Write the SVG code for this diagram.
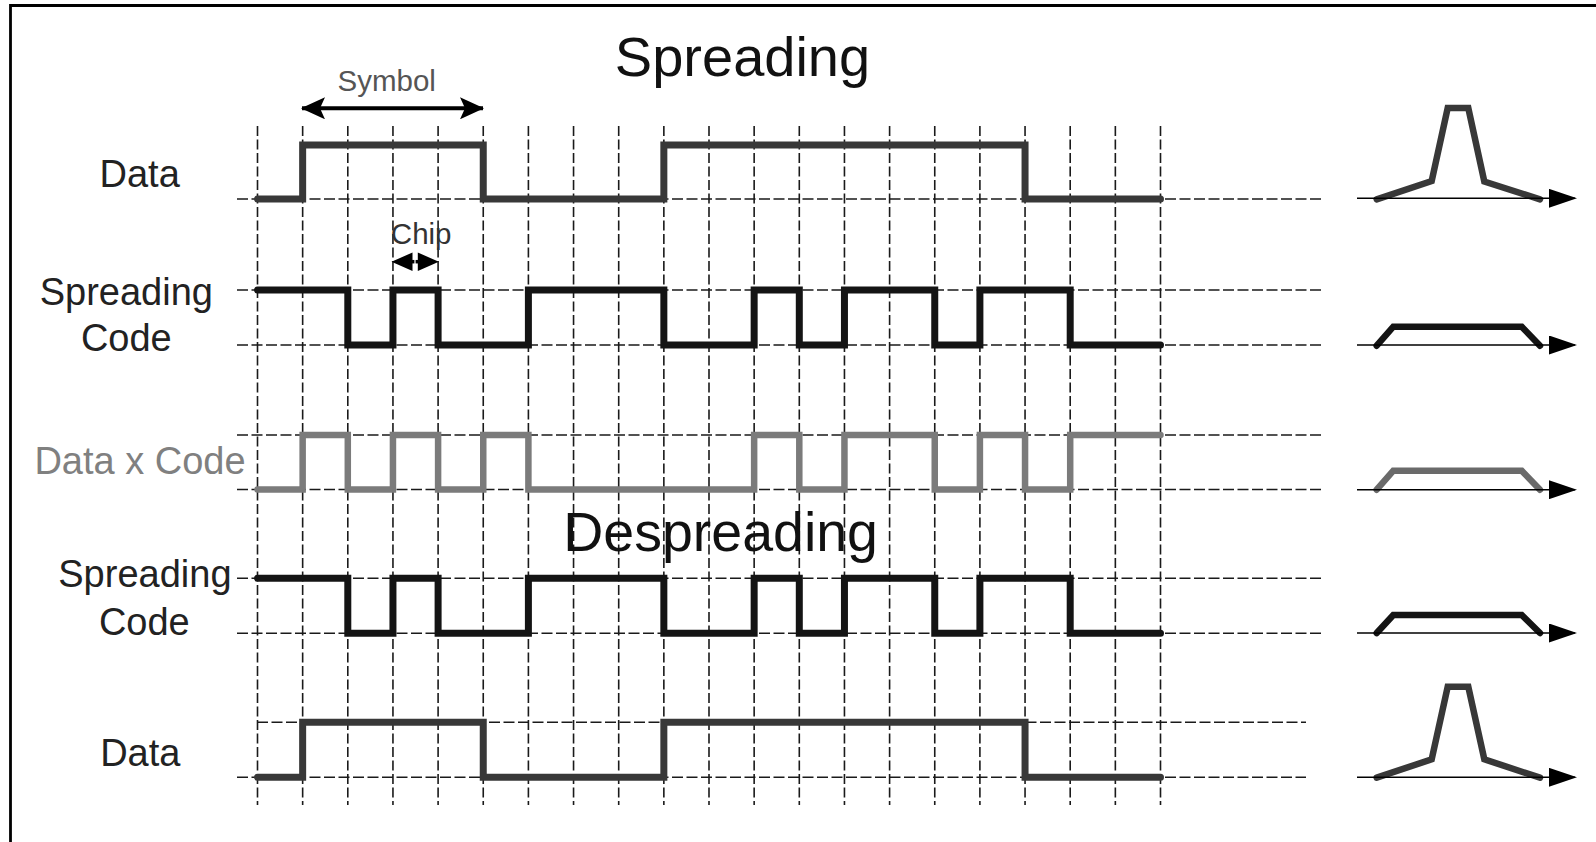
<svg xmlns="http://www.w3.org/2000/svg" width="1596" height="842" viewBox="0 0 1596 842">
<style>
text{font-family:"Liberation Sans",Arial,sans-serif;}
.lbl{font-size:38px;fill:#222;text-anchor:middle;}
.ttl{font-size:56px;fill:#111;text-anchor:middle;}
.small{font-size:29.5px;text-anchor:middle;}
.vg{stroke:#1a1a1a;stroke-width:1.6;stroke-dasharray:10 3.5;fill:none;}
.hg{stroke:#1a1a1a;stroke-width:1.6;stroke-dasharray:11 3.5;fill:none;}
.sig{fill:none;stroke-width:7;stroke-linecap:round;stroke-linejoin:miter;}
.data{stroke:#383838;}
.code{stroke:#141414;}
.dxc{stroke:#7b7b7b;stroke-width:6.5;}
.spec{fill:none;stroke-width:6.5;stroke-linejoin:miter;stroke-linecap:round;}
.axis{stroke:#000;stroke-width:1.6;fill:none;marker-end:url(#axArr);}
</style>
<defs>
<marker id="axArr" viewBox="0 0 28 19" refX="26" refY="9.5" markerWidth="28" markerHeight="19" markerUnits="userSpaceOnUse" orient="auto">
<path d="M0,0 L28,9.5 L0,19 Z" fill="#000"/>
</marker>
<marker id="symArr" viewBox="0 0 24 22" refX="23" refY="11" markerWidth="24" markerHeight="22" markerUnits="userSpaceOnUse" orient="auto-start-reverse">
<path d="M0,0 L24,11 L0,22 L5,11 Z" fill="#000"/>
</marker>
</defs>
<rect width="1596" height="842" fill="#fff"/>
<path d="M10.5,842 V5.5 H1596" fill="none" stroke="#000" stroke-width="2.8"/>

<g id="grid">
<path class="vg" d="M257.5,126V805M302.65,126V805M347.8,126V805M392.95,126V805M438.1,126V805M483.25,126V805M528.4,126V805M573.55,126V805M618.7,126V805M663.85,126V805M709,126V805M754.15,126V805M799.3,126V805M844.45,126V805M889.6,126V805M934.75,126V805M979.9,126V805M1025.05,126V805M1070.2,126V805M1115.35,126V805M1160.5,126V805"/>
<path class="hg" d="M237,199H1323M237,290H1323M237,345H1323M237,435H1323M237,489.5H1323M237,578.3H1323M237,633.3H1323M257,722.3H1306M237,777.3H1306"/>
</g>

<g id="title-spreading"><text class="ttl" x="742.5" y="76">Spreading</text></g>
<g id="title-despreading"><text class="ttl" x="720.6" y="550.7" style="font-size:55.5px">Despreading</text></g>

<g id="symbol-label"><text class="small" x="386.7" y="91" fill="#555">Symbol</text></g>
<g id="chip-label"><text class="small" x="421.2" y="244.3" fill="#333">Chip</text></g>

<g id="row-data-1">
<text class="lbl" x="139.7" y="186.7">Data</text>
<path class="sig data" d="M257.5,199H302.65V145H483.25V199H663.85V145H1025.05V199H1160.5"/>
</g>
<g id="row-code-1">
<text class="lbl" x="126.3" y="305">Spreading</text>
<text class="lbl" x="126.3" y="351">Code</text>
<path class="sig code" d="M257.5,290H347.8V345H392.95V290H438.1V345H528.4V290H663.85V345H754.15V290H799.3V345H844.45V290H934.75V345H979.9V290H1070.2V345H1160.5"/>
</g>
<g id="row-dxc">
<text class="lbl" x="140" y="474" style="fill:#808080">Data x Code</text>
<path class="sig dxc" d="M257.5,489.5H302.65V435H347.8V489.5H392.95V435H438.1V489.5H483.25V435H528.4V489.5H754.15V435H799.3V489.5H844.45V435H934.75V489.5H979.9V435H1025.05V489.5H1070.2V435H1160.5"/>
</g>
<g id="row-code-2">
<text class="lbl" x="144.9" y="586.7">Spreading</text>
<text class="lbl" x="144.3" y="635">Code</text>
<path class="sig code" d="M257.5,578.3H347.8V633.3H392.95V578.3H438.1V633.3H528.4V578.3H663.85V633.3H754.15V578.3H799.3V633.3H844.45V578.3H934.75V633.3H979.9V578.3H1070.2V633.3H1160.5"/>
</g>
<g id="row-data-2">
<text class="lbl" x="140.3" y="765.7">Data</text>
<path class="sig data" d="M257.5,777.3H302.65V722.3H483.25V777.3H663.85V722.3H1025.05V777.3H1160.5"/>
</g>

<g id="spectrum-1"><path class="spec" stroke="#383838" d="M1376.7,199.3L1431.7,181L1447.7,108H1468.3L1484.3,181.5L1540,199.3"/></g>
<g id="spectrum-2"><path class="spec" stroke="#141414" d="M1376.7,345.7L1393.3,326.7H1521.7L1540,345.7"/></g>
<g id="spectrum-3"><path class="spec" stroke="#6a6a6a" d="M1376.7,489.7L1393.3,470.7H1521.7L1540,489.7"/></g>
<g id="spectrum-4"><path class="spec" stroke="#141414" d="M1376.7,633L1393.3,615H1521.7L1540,633"/></g>
<g id="spectrum-5"><path class="spec" stroke="#383838" d="M1376.7,777.7L1431.7,759.3L1447.7,686.7H1468.3L1484.3,759.3L1540,777.7"/></g>

<g id="connectors">
<path d="M302,108.3H483" stroke="#000" stroke-width="4" fill="none" marker-start="url(#symArr)" marker-end="url(#symArr)"/>
<path d="M391.5,261.7L412.5,252.5V270.9Z M438.8,261.7L417.8,252.5V270.9Z" fill="#000"/>
<path d="M410,261.7H420" stroke="#000" stroke-width="3.5"/>
<path d="M415,255.5V268" stroke="#fff" stroke-width="1.2"/>
<path class="axis" d="M1357,198.3H1575"/>
<path class="axis" d="M1357,345H1575"/>
<path class="axis" d="M1357,489.7H1575"/>
<path class="axis" d="M1357,633H1575"/>
<path class="axis" d="M1357,777.3H1575"/>
</g>
</svg>
